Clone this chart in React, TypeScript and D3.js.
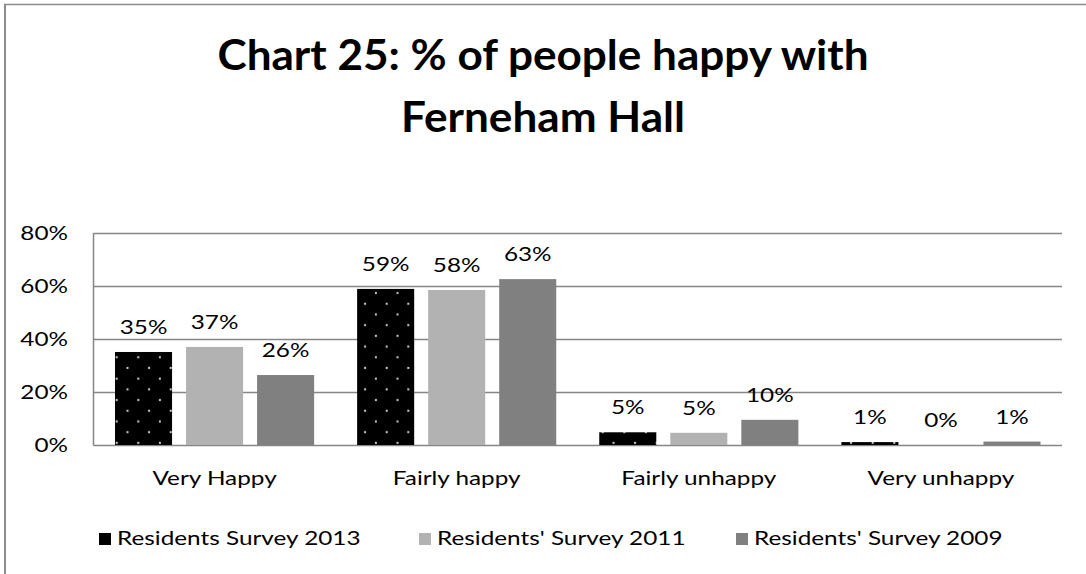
import React from "react";
import * as d3 from "d3";

const categories = ["Very Happy", "Fairly happy", "Fairly unhappy", "Very unhappy"];
const seriesNames = ["Residents Survey 2013", "Residents' Survey 2011", "Residents' Survey 2009"];
const survey2013 = [35.1, 58.9, 4.8, 1.1];
const survey2011 = [37.0, 58.5, 4.6, 0];
const survey2009 = [26.4, 62.6, 9.5, 1.3];
const labels2013 = ["35%", "59%", "5%", "1%"];
const labels2011 = ["37%", "58%", "5%", "0%"];
const labels2009 = ["26%", "63%", "10%", "1%"];
const yTicks = [0, 20, 40, 60, 80];
const titleLines = ["Chart 25: % of people happy with", "Ferneham Hall"];

const seriesValues = [survey2013, survey2011, survey2009];
const seriesLabels = [labels2013, labels2011, labels2009];
const seriesFills = ["url(#dots)", "#b2b2b2", "#808080"];
const legendFills = ["#000000", "#b2b2b2", "#808080"];

const W = 1086;
const H = 574;
const plot = { left: 93.5, right: 1062, top: 233, bottom: 445 };
const FONT = "Lato, Carlito, Calibri, 'Open Sans', sans-serif";
const SX = 1.28;

function T(props: {
  x: number;
  y: number;
  anchor?: "start" | "middle" | "end";
  size?: number;
  sx?: number;
  bold?: boolean;
  children: React.ReactNode;
}) {
  const { x, y, anchor = "start", size = 19, sx = SX, bold = false, children } = props;
  return (
    <text
      transform={`translate(${x},${y}) scale(${sx},1)`}
      textAnchor={anchor}
      fontSize={size}
      fontWeight={bold ? "bold" : "normal"}
      fill="#000"
    >
      {children}
    </text>
  );
}

export default function App() {
  const x0 = d3.scaleBand<string>().domain(categories).range([plot.left, plot.right]).paddingInner(0).paddingOuter(0);
  const x1 = d3
    .scaleBand<number>()
    .domain([0, 1, 2])
    .range([21.5, x0.bandwidth() - 21.5])
    .paddingInner(0.197);
  const y = d3.scaleLinear().domain([0, 80]).range([plot.bottom, plot.top]);

  const legendX = [99, 419, 736];

  return (
    <svg
      width={W}
      height={H}
      style={{ position: "absolute", left: 0, top: 0, background: "#fff" }}
      fontFamily={FONT}
    >
      <defs>
        <pattern id="dots" patternUnits="userSpaceOnUse" width={21.6} height={21.4} x={116.7} y={357.3}>
          <rect width={21.6} height={21.4} fill="#000" />
          <circle cx={0} cy={0} r={1.1} fill="#d8d8d8" />
          <circle cx={21.6} cy={0} r={1.1} fill="#d8d8d8" />
          <circle cx={0} cy={21.4} r={1.1} fill="#d8d8d8" />
          <circle cx={21.6} cy={21.4} r={1.1} fill="#d8d8d8" />
          <circle cx={10.8} cy={10.7} r={1.1} fill="#d8d8d8" />
        </pattern>
      </defs>
      <rect x={0} y={0} width={W} height={H} fill="#fff" />
      {/* frame */}
      <line x1={5} x2={5} y1={4} y2={H} stroke="#8c8c8c" strokeWidth={2} />
      <line x1={4} x2={W} y1={4.5} y2={4.5} stroke="#8c8c8c" strokeWidth={1.5} />

      {/* title */}
      {titleLines.map((t, i) => (
        <T key={t} x={543} y={70 + i * 62} anchor="middle" size={42} sx={1.05} bold>
          {t}
        </T>
      ))}

      {/* gridlines */}
      {yTicks.map((t) => (
        <g key={t}>
          <line x1={plot.left} x2={plot.right} y1={Math.round(y(t)) + 0.5} y2={Math.round(y(t)) + 0.5} stroke="#868686" strokeWidth={1.5} />
          <T x={68} y={y(t) + 7} anchor="end">
            {t}%
          </T>
        </g>
      ))}
      <line x1={plot.left} x2={plot.left} y1={plot.top} y2={plot.bottom + 0.5} stroke="#868686" strokeWidth={1.5} />

      {/* bars */}
      {categories.map((c, ci) => (
        <g key={c}>
          {seriesValues.map((vals, si) => {
            const bx = (x0(c) as number) + (x1(si) as number);
            const top = y(vals[ci]);
            return (
              <g key={si}>
                {vals[ci] > 0 && (
                  <rect x={bx} y={top} width={x1.bandwidth()} height={plot.bottom - top} fill={seriesFills[si]} />
                )}
                <T x={bx + x1.bandwidth() / 2} y={top - 18} anchor="middle">
                  {seriesLabels[si][ci]}
                </T>
              </g>
            );
          })}
          <T x={(x0(c) as number) + x0.bandwidth() / 2} y={485} anchor="middle">
            {c}
          </T>
        </g>
      ))}

      {/* legend */}
      {seriesNames.map((n, i) => (
        <g key={n}>
          <rect x={legendX[i]} y={533} width={12} height={12} fill={legendFills[i]} />
          <T x={legendX[i] + 18} y={545}>
            {n}
          </T>
        </g>
      ))}
    </svg>
  );
}
